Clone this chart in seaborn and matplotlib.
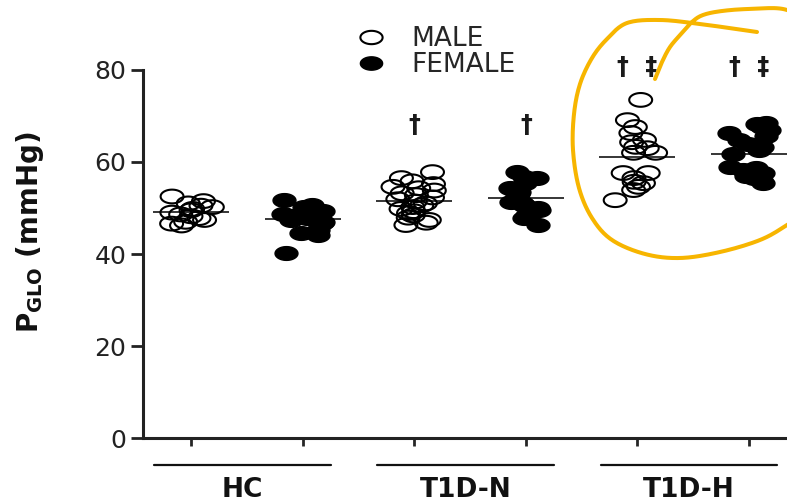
import numpy as np
import pandas as pd
import seaborn as sns
import matplotlib.pyplot as plt
from matplotlib.path import Path
from matplotlib.lines import Line2D

# Glomerular pressure per subject (mmHg)
groups = ["HC", "T1D-N", "T1D-H"]
sexes = ["MALE", "FEMALE"]

hc_male = [52.5, 51.5, 51.0, 50.5, 50.2, 49.8, 49.5, 49.0, 48.6, 48.2, 47.8, 47.4, 47.0, 46.6, 46.2]
hc_female = [51.7, 50.6, 50.2, 49.8, 49.3, 49.0, 48.8, 48.3, 47.8, 47.4, 47.0, 46.7, 45.2, 44.6, 44.2, 40.2]
t1dn_male = [57.8, 56.5, 55.8, 55.2, 54.6, 54.3, 53.8, 53.2, 52.8, 52.3, 51.9, 51.4, 51.0,
             50.6, 50.2, 49.8, 49.3, 48.9, 48.4, 47.9, 47.4, 46.8, 46.3]
t1dn_female = [57.8, 56.7, 56.5, 55.5, 54.3, 53.5, 53.0, 52.5, 51.3, 51.0, 50.6, 50.0, 49.5, 48.5, 47.8, 46.3]
t1dh_male = [73.5, 69.1, 67.6, 66.3, 64.8, 64.3, 63.3, 63.0, 62.0, 62.0, 57.6, 57.6, 56.5, 55.7,
             55.4, 54.6, 53.9, 51.7]
t1dh_female = [68.5, 68.2, 67.6, 67.0, 66.3, 65.6, 64.8, 64.0, 63.2, 62.6, 61.8, 58.8, 59.0,
               58.2, 57.6, 57.0, 56.6, 56.2, 55.5, 56.0]

# significance marks above each column (text, height)
sig_marks = ["", "", "\u2020", "\u2020", "\u2020  \u2021", "\u2020  \u2021"]
sig_y = [0, 0, 68, 68, 80.6, 80.6]

series = [hc_male, hc_female, t1dn_male, t1dn_female, t1dh_male, t1dh_female]
slots = [f"{g} {s}" for g in groups for s in sexes]
rows = []
for slot, vals in zip(slots, series):
    g, s = slot.rsplit(" ", 1)
    for v in vals:
        rows.append({"slot": slot, "group": g, "sex": s, "value": v})
df = pd.DataFrame(rows)

sns.set_theme(style="ticks")
plt.rcParams["font.family"] = ["DejaVu Sans"]
plt.rcParams["mathtext.fontset"] = "custom"
plt.rcParams["mathtext.bf"] = "DejaVu Sans:bold"
plt.rcParams["mathtext.rm"] = "DejaVu Sans"

fig = plt.figure(figsize=(7.87, 5.01), dpi=100)
ax = fig.add_axes([143 / 787, 1 - 438 / 501, 1 - 143 / 787, (438 - 70) / 501])

# slightly flattened oval marker
t = np.linspace(0, 2 * np.pi, 60)
oval = Path(np.column_stack([np.cos(t), 0.6 * np.sin(t)]), closed=True)

np.random.seed(7)
n0 = len(ax.collections)
sns.stripplot(data=df[df.sex == "MALE"], x="slot", y="value", order=slots,
              color="black", marker=oval, size=16.5, jitter=0.2, ax=ax, zorder=3)
for c in ax.collections[n0:]:
    c.set_facecolor("none")
    c.set_edgecolor("black")
    c.set_linewidth(1.5)
n1 = len(ax.collections)
sns.stripplot(data=df[df.sex == "FEMALE"], x="slot", y="value", order=slots,
              color="black", marker=oval, size=16.5, jitter=0.2, ax=ax, zorder=3)
for c in ax.collections[n1:]:
    c.set_edgecolor("black")
    c.set_linewidth(1.0)

# group means
means = df.groupby("slot")["value"].mean().reindex(slots)
for i, m in enumerate(means):
    ax.hlines(m, i - 0.34, i + 0.34, color="black", lw=1.1, zorder=4)

# significance daggers
for i, (txt, yy) in enumerate(zip(sig_marks, sig_y)):
    if txt:
        ax.text(i, yy, txt, ha="center", va="center", fontsize=17,
                fontweight="bold", color="#1a1a1a", clip_on=False)

ax.set_xlim(-0.43, 5.34)
ax.set_ylim(0, 80)
ax.set_yticks([0, 20, 40, 60, 80])
ax.set_xticks(range(6))
ax.set_xticklabels([])
ax.set_xlabel("")
ax.tick_params(axis="y", direction="out", length=9, width=2, labelsize=18,
               colors="#222222", pad=3)
ax.tick_params(axis="x", direction="out", length=6, width=2)
for side in ["top", "right"]:
    ax.spines[side].set_visible(False)
for side in ["left", "bottom"]:
    ax.spines[side].set_linewidth(2.2)
    ax.spines[side].set_color("#222222")

ax.set_ylabel(r"$\mathbf{P_{GLO}}$ (mmHg)", fontsize=20, fontweight="bold",
              color="#111111")
ax.yaxis.set_label_coords(-0.15, 0.56)

# group brackets under the axis
offset = -0.04
for k, g in enumerate(groups):
    c = 2 * k + 0.5 + offset
    ax.plot([c - 0.79, c + 0.79], [-5.9, -5.9], color="#111111", lw=1.6,
            clip_on=False)
    ax.text(c, -11.2, g, ha="center", va="center", fontsize=19,
            fontweight="bold", color="#111111", clip_on=False)

# legend
handles = [
    Line2D([], [], ls="", marker=oval, markersize=16, markerfacecolor="none",
           markeredgecolor="black", markeredgewidth=1.5),
    Line2D([], [], ls="", marker=oval, markersize=16, markerfacecolor="black",
           markeredgecolor="black"),
]
fig.legend(handles, sexes, loc="upper left", bbox_to_anchor=(337 / 787, 1 - 13 / 501),
           frameon=False, fontsize=19, handletextpad=0.7, labelspacing=0.0,
           borderpad=0, handlelength=1.6)

# hand-drawn highlight around the T1D-H columns
pts = np.array([
    (655, 79), (662, 62), (670, 47), (681, 34), (692, 22), (703, 15), (722, 11),
    (750, 9), (787, 10), (815, 30), (830, 120), (815, 205), (787, 225),
    (760, 240), (720, 252), (680, 258), (645, 254), (612, 240), (592, 218),
    (579, 188), (573, 150), (574, 114), (580, 84), (592, 58), (607, 39),
    (627, 23), (660, 20), (700, 24), (757, 32)], dtype=float)


def catmull(p, n=14):
    p = np.vstack([p[0], p, p[-1]])
    out = []
    for i in range(1, len(p) - 2):
        p0, p1, p2, p3 = p[i - 1], p[i], p[i + 1], p[i + 2]
        for s in np.linspace(0, 1, n, endpoint=False):
            out.append(0.5 * ((2 * p1) + (-p0 + p2) * s
                              + (2 * p0 - 5 * p1 + 4 * p2 - p3) * s ** 2
                              + (-p0 + 3 * p1 - 3 * p2 + p3) * s ** 3))
    out.append(p[-2])
    return np.array(out)


curve = catmull(pts)
fig.add_artist(Line2D(curve[:, 0] / 787, 1 - curve[:, 1] / 501,
                      transform=fig.transFigure, color="#F7B500", lw=2.9,
                      solid_capstyle="round", solid_joinstyle="round"))

fig.savefig("out.png", dpi=100)
